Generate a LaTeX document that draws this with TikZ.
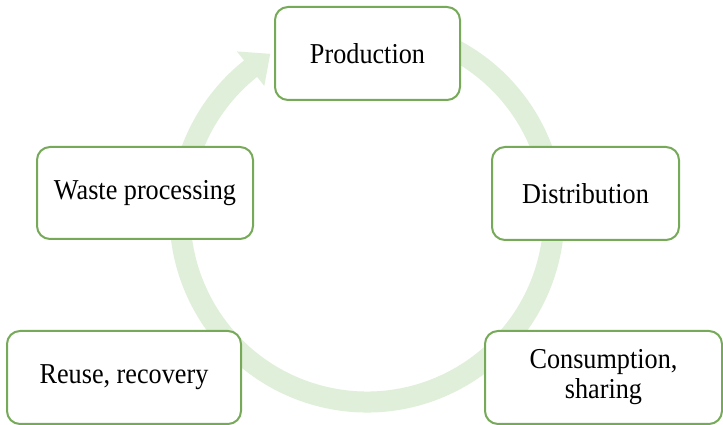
\documentclass[tikz,border=0pt]{standalone}
\usepackage{fontspec}
\setmainfont[FakeStretch=0.91]{Liberation Serif}
\usetikzlibrary{calc}
\definecolor{ringgreen}{RGB}{224,239,217}
\definecolor{boxgreen}{RGB}{118,170,88}
\begin{document}
\begin{tikzpicture}[x=1pt,y=1pt,
  stage/.style={draw=boxgreen, line width=2pt, fill=white, rounded corners=13pt,
    minimum width=#1, minimum height=93pt, inner sep=0pt, align=center,
    font=\fontsize{28.8}{30}\selectfont},
  ring/.style={ringgreen, line width=21pt}]
\fill[white] (0,0) rectangle (723,425);
\useasboundingbox (0,0) rectangle (723,425);
\coordinate (c) at (367,210);
% circular arrow
\draw[ring] ([shift={(435:187)}]c) arc[start angle=435, end angle=127.5, radius=187];
\fill[ringgreen] ([shift={(128.5:165)}]c) -- ([shift={(121:188)}]c) -- ([shift={(128.5:209)}]c) -- cycle;
% stages
\node[stage=185pt] (prod) at (367.5,371.5) {Production};
\node[stage=216pt, minimum height=92pt] (waste) at (145,232) {Waste processing};
\node[stage=187pt] (dist) at (585.5,231.5) {Distribution};
\node[stage=234pt] (reuse) at (124,47.5) {Reuse, recovery};
\node[stage=237pt] (cons) at (603.5,47.5) {Consumption,\\ sharing};
\end{tikzpicture}
\end{document}
